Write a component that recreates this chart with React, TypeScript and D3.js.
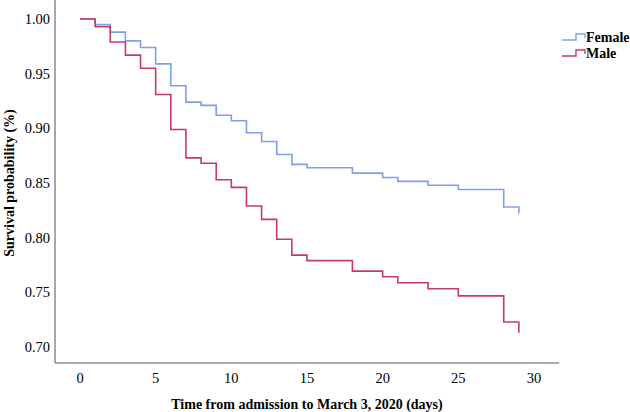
import React from 'react';
import * as d3 from 'd3';

// Kaplan-Meier steps
const days = [0, 1, 2, 3, 4, 5, 6, 7, 8, 9, 10, 11, 12, 13, 14, 15, 18, 20, 21, 23, 25, 28, 29];
const female = [1.0, 0.995, 0.988, 0.98, 0.974, 0.959, 0.939, 0.924, 0.921, 0.912, 0.907, 0.896, 0.888, 0.876, 0.867, 0.864, 0.859, 0.855, 0.8515, 0.848, 0.844, 0.828, 0.822];
const male = [1.0, 0.993, 0.979, 0.967, 0.955, 0.931, 0.899, 0.873, 0.868, 0.853, 0.846, 0.829, 0.8167, 0.7985, 0.784, 0.779, 0.7694, 0.7643, 0.7588, 0.7533, 0.7468, 0.7228, 0.713];
const xTicks = [0, 5, 10, 15, 20, 25, 30];
const yTicks = [0.7, 0.75, 0.8, 0.85, 0.9, 0.95, 1.0];
const groups = [
  { name: 'Female', values: female, color: '#7f9ef0' },
  { name: 'Male', values: male, color: '#c53a60' },
];

const W = 630;
const H = 412;
const FONT = '"Liberation Serif", "Times New Roman", serif';

export default function App() {
  const x = d3.scaleLinear().domain([0, 30]).range([80, 534]);
  const y = d3.scaleLinear().domain([0.7, 1.0]).range([347, 19]);
  const x0 = x(-1.65);
  const x1 = x(31.66);
  const yBottom = y(0.6854);

  const line = d3.line<[number, number]>()
    .x(d => x(d[0]))
    .y(d => y(d[1]))
    .curve(d3.curveStepAfter);

  return (
    <svg width={W} height={H} style={{ position: 'absolute', left: 0, top: 0, background: '#fff' }}>
      <rect width={W} height={H} fill="#fff" />
      <line x1={x0} x2={x0} y1={0} y2={yBottom} stroke="#8c8c8c" strokeWidth={1.5} />
      <line x1={x0} x2={x1} y1={yBottom} y2={yBottom} stroke="#8c8c8c" strokeWidth={1.5} />
      {yTicks.map(t => (
        <text key={t} x={50} y={y(t)} dy="0.35em" textAnchor="end" fontFamily={FONT}
          fontSize={14.5} fill="#000">{d3.format('.2f')(t)}</text>
      ))}
      {xTicks.map(t => (
        <text key={t} x={x(t)} y={382.5} textAnchor="middle" fontFamily={FONT}
          fontSize={14.5} fill="#000">{t}</text>
      ))}
      <text x={307} y={409} textAnchor="middle" fontFamily={FONT} fontWeight="bold"
        fontSize={14} fill="#000">Time from admission to March 3, 2020 (days)</text>
      <text transform={`translate(14,${183}) rotate(-90)`} textAnchor="middle" fontFamily={FONT}
        fontWeight="bold" fontSize={14} fill="#000">Survival probability (%)</text>
      {groups.map(g => {
        const pts = days.map((d, i) => [d, g.values[i]] as [number, number]);
        return (
          <path key={g.name} d={line(pts) || ''} fill="none" stroke={g.color} strokeWidth={1.6} />
        );
      })}
      {groups.map((g, i) => {
        const ly = 40 + i * 16;
        return (
          <g key={g.name}>
            <path d={`M562,${ly}H576V${ly - 6}H585V${ly - 2}`} fill="none" stroke={g.color} strokeWidth={1.4} />
            <text x={586} y={ly + 1.5} fontFamily={FONT} fontWeight="bold" fontSize={14} fill="#000">{g.name}</text>
          </g>
        );
      })}
    </svg>
  );
}
